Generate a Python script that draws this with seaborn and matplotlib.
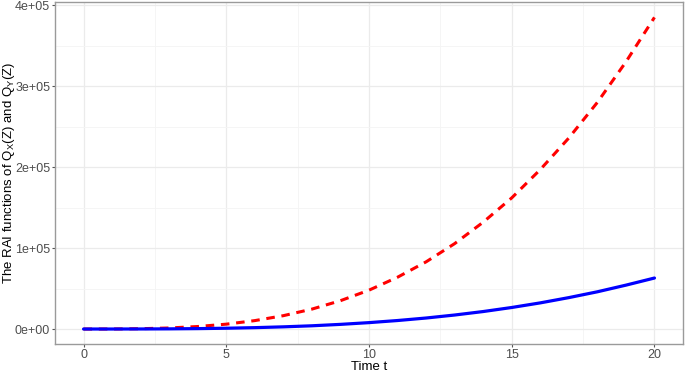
import matplotlib.pyplot as plt
import seaborn as sns
import pandas as pd
from matplotlib.ticker import MultipleLocator

# values
time_t = list(range(0, 21))
rai_x = [0, 50, 400, 1300, 3100, 6000, 10400, 16500, 24600, 35000, 48000,
         64000, 83000, 105500, 132000, 162000, 197000, 236000, 280000, 330000, 385000]
rai_y = [0, 8, 63, 210, 500, 980, 1700, 2700, 4000, 5750, 7900,
         10500, 13600, 17300, 21600, 26600, 32300, 38800, 46000, 54200, 63000]
y_ticks = [0, 100000, 200000, 300000, 400000]
y_tick_labels = ["0e+00", "1e+05", "2e+05", "3e+05", "4e+05"]

df = pd.DataFrame({"t": time_t, "QX": rai_x, "QY": rai_y})

sns.set_style("white")
plt.rcParams['font.family'] = ['Liberation Sans', 'DejaVu Sans']

fig = plt.figure(figsize=(6.85, 3.74), dpi=100)
ax = fig.add_axes([55 / 685, 1 - 344 / 374, (683 - 55) / 685, (344 - 2) / 374])

sns.lineplot(data=df, x="t", y="QX", ax=ax, color="red", linewidth=2.2, linestyle=(0, (2.8, 2.2)))
sns.lineplot(data=df, x="t", y="QY", ax=ax, color="blue", linewidth=2.3)

ax.set_xlim(-1, 21)
ax.set_ylim(-18500, 404000)
ax.xaxis.set_major_locator(MultipleLocator(5))
ax.xaxis.set_minor_locator(MultipleLocator(2.5))
ax.set_yticks(y_ticks)
ax.set_yticklabels(y_tick_labels)
ax.yaxis.set_minor_locator(MultipleLocator(50000))

ax.grid(True, which="major", color="#ebebeb", linewidth=0.9)
ax.grid(True, which="minor", color="#f4f4f4", linewidth=0.6)
ax.set_axisbelow(True)

for s in ax.spines.values():
    s.set_color("#9a9a9a")
    s.set_linewidth(1)

ax.tick_params(axis="both", which="major", length=2.5, width=0.8, color="#555555",
               labelsize=9, labelcolor="#4d4d4d", pad=1, bottom=True, left=True)
ax.tick_params(axis="both", which="minor", length=0)

ax.set_xlabel("Time t", fontsize=9.5, color="black")
ax.set_ylabel("The RAI functions of Q$_\\mathregular{X}$(Z) and Q$_\\mathregular{Y}$(Z)",
              fontsize=9.5, color="black")
ax.xaxis.set_label_coords(0.5, -(361 - 344) / 342)
ax.yaxis.set_label_coords(-(55 - 17) / 628, 0.5)

fig.savefig("out.png", dpi=100)
